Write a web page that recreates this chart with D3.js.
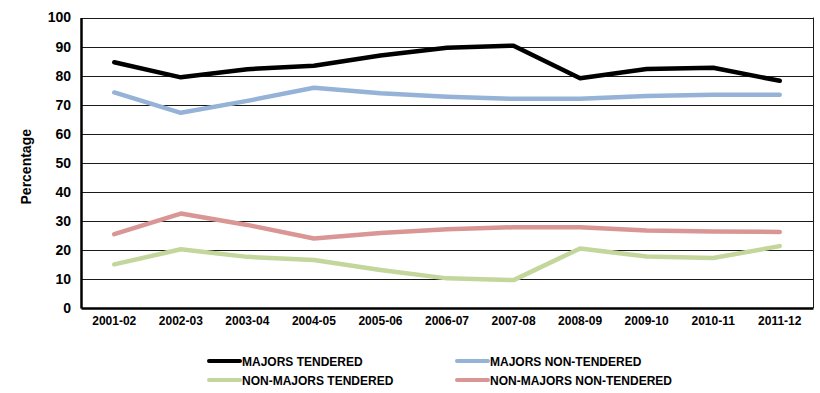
<!DOCTYPE html>
<html><head><meta charset="utf-8">
<script src="https://cdn.jsdelivr.net/npm/d3@7"></script>
<style>body{margin:0;background:#fff}svg{display:block;font-family:"Liberation Sans",Arial,sans-serif}</style>
</head><body><svg id="c" width="820" height="393"></svg>
<script>
const categories = ["2001-02","2002-03","2003-04","2004-05","2005-06","2006-07","2007-08","2008-09","2009-10","2010-11","2011-12"];
const majorsTendered = [84.6,79.4,82.2,83.4,86.9,89.6,90.3,79.1,82.3,82.7,78.2];
const majorsNonTendered = [74.2,67.2,71.3,75.8,73.9,72.7,72.0,72.0,73.0,73.4,73.4];
const nonMajorsTendered = [15.0,20.2,17.6,16.5,13.1,10.2,9.6,20.5,17.7,17.2,21.3];
const nonMajorsNonTendered = [25.4,32.5,28.6,23.9,25.8,27.1,27.8,27.8,26.7,26.3,26.2];
const yTicks = [0,10,20,30,40,50,60,70,80,90,100];
const seriesNames = ["MAJORS TENDERED","MAJORS NON-TENDERED","NON-MAJORS TENDERED","NON-MAJORS NON-TENDERED"];
const seriesColors = ["#000000","#95b3d7","#c3d69b","#d99694"];
const seriesData = [majorsTendered, majorsNonTendered, nonMajorsTendered, nonMajorsNonTendered];

const svg = d3.select("#c");
const L = 81, R = 813, T = 17.5, B = 308;
const x = d3.scaleBand().domain(categories).range([L, R]);
const y = d3.scaleLinear().domain([0,100]).range([B, T]);

// gridlines
svg.append("g").selectAll("line").data(yTicks.filter(d=>d>0)).join("line")
  .attr("x1", L).attr("x2", R).attr("y1", d=>Math.round(y(d))+0.5).attr("y2", d=>Math.round(y(d))+0.5)
  .attr("stroke", "#1a1a1a").attr("stroke-width", 1);
// right border
svg.append("line").attr("x1", R+0.5).attr("x2", R+0.5).attr("y1", y(100)).attr("y2", B)
  .attr("stroke", "#1a1a1a").attr("stroke-width", 1);

// y axis
const ya = svg.append("g").attr("transform", `translate(${L},0)`)
  .call(d3.axisLeft(y).tickValues(yTicks).tickSize(0).tickPadding(10));
ya.select(".domain").attr("stroke", "#000").attr("stroke-width", 2.5);
ya.selectAll("text").attr("font-size", 14).attr("font-weight", "bold").attr("fill", "#000")
  .attr("font-family", "'Liberation Sans',Arial,sans-serif");

// x axis
const xa = svg.append("g").attr("transform", `translate(0,${B})`)
  .call(d3.axisBottom(x).tickSize(0).tickPadding(8));
xa.select(".domain").attr("stroke", "#000").attr("stroke-width", 2.5);
xa.selectAll("text").attr("font-size", 12).attr("font-weight", "bold").attr("fill", "#000")
  .attr("font-family", "'Liberation Sans',Arial,sans-serif");

// axis title
svg.append("text").attr("transform", `translate(31,${(T+B)/2+4}) rotate(-90)`)
  .attr("text-anchor", "middle").attr("font-size", 14).attr("font-weight", "bold").text("Percentage");

// lines
const line = d3.line().x((d,i)=>x(categories[i]) + x.bandwidth()/2).y(d=>y(d));
const drawOrder = [3,2,1,0];
drawOrder.forEach(k=>{
  svg.append("path").datum(seriesData[k]).attr("d", line)
    .attr("fill", "none").attr("stroke", seriesColors[k]).attr("stroke-width", 4.5)
    .attr("stroke-linejoin", "round").attr("stroke-linecap", "round");
});

// legend
const legPos = [[209,361],[457,361],[209,380],[457,380]];
seriesNames.forEach((n,k)=>{
  const [lx,ly] = legPos[k];
  svg.append("line").attr("x1", lx).attr("x2", lx+31).attr("y1", ly).attr("y2", ly)
    .attr("stroke", seriesColors[k]).attr("stroke-width", 4).attr("stroke-linecap","round");
  svg.append("text").attr("x", lx+33).attr("y", ly+4.5).attr("font-size", 12).attr("font-weight","bold")
    .text(n);
});
</script></body></html>
